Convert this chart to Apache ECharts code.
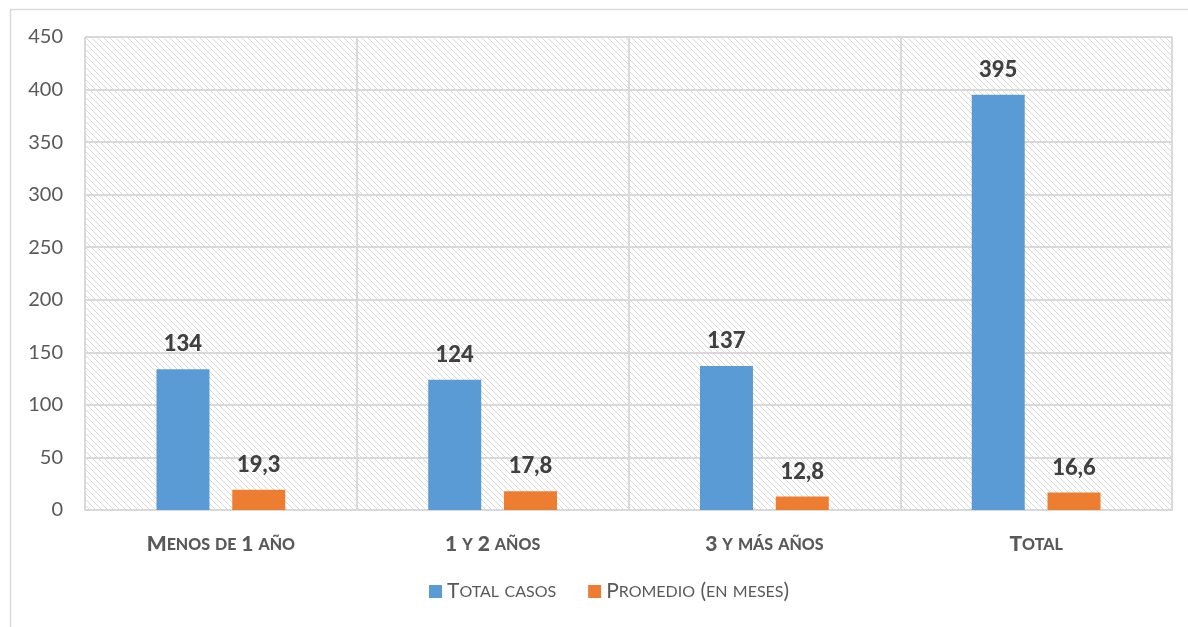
<!DOCTYPE html>
<html><head><meta charset="utf-8">
<script src="https://cdn.jsdelivr.net/npm/echarts@6/dist/echarts.min.js"></script>
<style>html,body{margin:0;padding:0;background:#fff}#c{width:1188px;height:627px}</style>
</head><body><div id="c"></div>
<script>
const categories = ['Menos de 1 año', '1 y 2 años', '3 y más años', 'Total'];
const totalCasos = [134, 124, 137, 395];
const promedio = [19.3, 17.8, 12.8, 16.6];
const seriesNames = ['Total casos', 'Promedio (en meses)'];
const yTicks = { min: 0, max: 450, interval: 50 };

const FONT = 'Lato, "Open Sans", sans-serif';

function hatch() {
  const c = document.createElement('canvas');
  c.width = 6; c.height = 6;
  const g = c.getContext('2d');
  g.fillStyle = '#ffffff'; g.fillRect(0, 0, 6, 6);
  g.fillStyle = '#d9d9d9';
  for (let i = 0; i < 6; i++) g.fillRect(i, i, 1, 1);
  return c;
}

// small caps helper: uppercase letters big, lowercase letters as small uppercase
function smallCaps(s, big, small) {
  let out = '', buf = '', mode = null;
  for (const ch of s) {
    const isLower = ch !== ch.toUpperCase();
    const m = isLower ? small : big;
    if (m !== mode && buf) { out += '{' + mode + '|' + buf + '}'; buf = ''; }
    mode = m; buf += ch.toUpperCase();
  }
  if (buf) out += '{' + mode + '|' + buf + '}';
  return out;
}

const chart = echarts.init(document.getElementById('c'), null, { renderer: 'canvas' });
const labelStyle = { show: true, position: 'top', distance: 14, fontFamily: FONT, fontWeight: 900, fontSize: 22, color: '#404040' };

chart.setOption({
  animation: false,
  backgroundColor: '#ffffff',
  graphic: [{
    type: 'rect', left: 8, top: 7, shape: { width: 1200, height: 640 },
    style: { fill: 'none', stroke: '#d9d9d9', lineWidth: 1.5 }, silent: true, z: -10
  }],
  grid: {
    left: 85, right: 16, top: 37, bottom: 117, show: true,
    backgroundColor: { image: hatch(), repeat: 'repeat' },
    borderWidth: 0
  },
  legend: {
    data: seriesNames, bottom: 20, left: 424,
    itemWidth: 13, itemHeight: 13, itemGap: 32,
    icon: 'rect',
    formatter: n => smallCaps(n, 'b', 's'),
    textStyle: {
      color: '#595959', fontFamily: FONT,
      rich: { b: { fontSize: 21, fontFamily: FONT, color: '#595959' }, s: { fontSize: 16, fontFamily: FONT, color: '#595959' } }
    }
  },
  xAxis: {
    type: 'category', data: categories,
    axisLine: { show: true, lineStyle: { color: '#d9d9d9', width: 2 } },
    axisTick: { show: false },
    splitLine: { show: true, interval: 0, lineStyle: { color: '#d9d9d9', width: 2 } },
    axisLabel: {
      margin: 24, interval: 0,
      formatter: v => smallCaps(v, 'B', 'S'),
      rich: {
        B: { fontSize: 21, fontWeight: 900, fontFamily: FONT, color: '#595959' },
        S: { fontSize: 16, fontWeight: 900, fontFamily: FONT, color: '#595959' }
      }
    }
  },
  yAxis: {
    type: 'value', min: yTicks.min, max: yTicks.max, interval: yTicks.interval,
    axisLine: { show: false }, axisTick: { show: false },
    splitLine: { lineStyle: { color: '#d9d9d9', width: 2 } },
    axisLabel: { fontSize: 20, fontFamily: FONT, color: '#595959', margin: 22 }
  },
  series: [
    { name: seriesNames[0], type: 'bar', data: totalCasos, barWidth: 53, barGap: '43%',
      itemStyle: { color: '#5b9bd5' }, label: labelStyle },
    { name: seriesNames[1], type: 'bar', data: promedio, barWidth: 53,
      itemStyle: { color: '#ed7d31' },
      label: Object.assign({}, labelStyle, { formatter: p => String(p.value).replace('.', ',') }) }
  ]
});
</script>
</body></html>
